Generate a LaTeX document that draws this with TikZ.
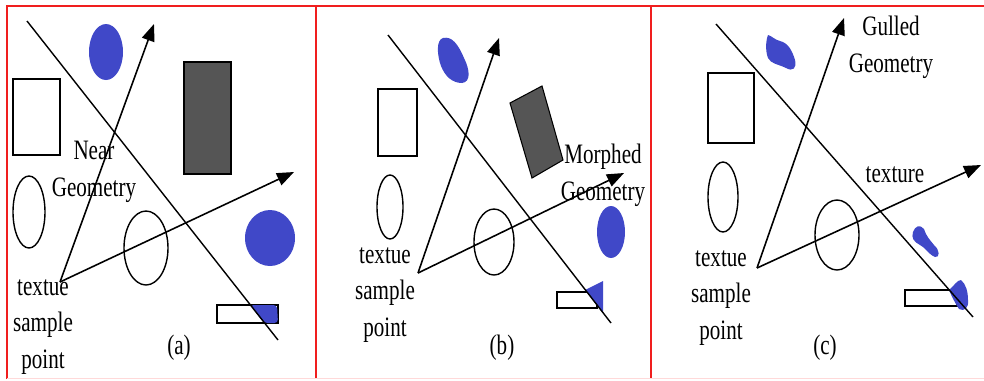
\documentclass[tikz,border=0pt]{standalone}
\usepackage{fontspec}
\newfontfamily\figfont[FakeStretch=0.75]{Liberation Serif}
\definecolor{figred}{RGB}{240,30,30}
\definecolor{figblue}{RGB}{64,72,200}
\definecolor{figgray}{RGB}{85,85,85}
\usetikzlibrary{arrows.meta}

\begin{document}
\begin{tikzpicture}[x=0.02cm,y=-0.02cm,
  panelframe/.style={draw=figred,line width=1.2pt},
  outline/.style={draw=black,line width=0.8pt},
  darkbox/.style={draw=black,fill=figgray,line width=0.6pt},
  blueblob/.style={fill=figblue,draw=none},
  cutline/.style={draw=black,line width=0.8pt},
  probe/.style={draw=black,line width=0.9pt,-{Triangle[length=0.34cm,width=0.26cm]}},
  lbl/.style={font=\figfont\fontsize{16}{21}\selectfont,align=center,inner sep=0pt}
]
  \useasboundingbox (0,0) rectangle (984,380);
  % frames
  \draw[panelframe] (7,379) -- (7,6) -- (984,6);
  \draw[panelframe] (316,6) -- (316,379);
  \draw[panelframe] (651,6) -- (651,379);
  \draw[red!15,line width=0.8pt] (7,378.5) -- (984,378.5);

  % (a)
  \fill[blueblob] (106,52) ellipse [x radius=17,y radius=28];
  \fill[blueblob] (270,238) ellipse [x radius=25,y radius=28];
  \draw[outline] (13,79) rectangle (60,155);
  \draw[darkbox] (184,62) rectangle (231,174);
  \draw[outline] (29,212) ellipse [x radius=16,y radius=36];
  \draw[outline] (146,248) ellipse [x radius=22,y radius=37];
  \draw[outline] (217,305) rectangle (278,323);
  \fill[blueblob,rounded corners=2pt] (250,305) -- (277,305) -- (278,323) -- (264,323) -- cycle;
  \coordinate (acutA) at (27,21);
  \coordinate (acutB) at (278,340);
  \draw[cutline] (acutA) -- (acutB);
  \coordinate (asample) at (60,282);
  \coordinate (atipA) at (154,24);
  \coordinate (atipB) at (294,172);
  \draw[probe] (asample) -- (atipA);
  \draw[probe] (asample) -- (atipB);
  \node[lbl] (anear) at (94,172) {Near\\Geometry};
  \node[lbl] (apoint) at (43,327) {textue\\sample\\point};
  \node[lbl] (acap) at (179,348) {(a)};

  % (b)
  \fill[blueblob] (443,38) .. controls (452,36) and (458,44) .. (464,58)
    .. controls (470,70) and (471,82) .. (462,83)
    .. controls (452,83) and (445,76) .. (441,66)
    .. controls (437,55) and (436,40) .. cycle;
  \fill[blueblob] (611,232) ellipse [x radius=14,y radius=26];
  \draw[outline] (378,89) rectangle (417,156);
  \draw[darkbox] (510,103) -- (542,86) -- (563,160) -- (532,178) -- cycle;
  \draw[outline] (390,207) ellipse [x radius=13,y radius=32];
  \draw[outline] (494,242) ellipse [x radius=20,y radius=33];
  \draw[outline] (557,292) rectangle (597,308);
  \fill[blueblob] (585,290) -- (603,281) -- (603,313) -- cycle;
  \coordinate (bcutA) at (388,35);
  \coordinate (bcutB) at (611,323);
  \draw[cutline] (bcutA) -- (bcutB);
  \coordinate (bsample) at (418,273);
  \coordinate (btipA) at (499,38);
  \coordinate (btipB) at (624,173);
  \draw[probe] (bsample) -- (btipA);
  \draw[probe] (bsample) -- (btipB);
  \node[lbl] (bmorph) at (603,175) {Morphed\\Geometry};
  \node[lbl] (bpoint) at (385,295) {textue\\sample\\point};
  \node[lbl] (bcap) at (502,348) {(b)};

  % (c)
  \fill[blueblob] (768,35) .. controls (772,36) and (775,40) .. (780,41)
    .. controls (788,43) and (792,50) .. (795,60)
    .. controls (797,68) and (793,72) .. (786,68)
    .. controls (778,64) and (771,64) .. (768,58)
    .. controls (765,50) and (766,40) .. cycle;
  \fill[blueblob] (913,232) .. controls (915,226) and (920,224) .. (924,229)
    .. controls (926,236) and (930,240) .. (934,245)
    .. controls (940,250) and (940,258) .. (935,257)
    .. controls (928,254) and (926,248) .. (920,245)
    .. controls (914,242) and (911,238) .. cycle;
  \draw[outline] (708,73) rectangle (754,143);
  \draw[outline] (723,197) ellipse [x radius=15,y radius=35];
  \draw[outline] (837,235) ellipse [x radius=22,y radius=35];
  \draw[outline] (905,290) rectangle (957,306);
  \fill[blueblob] (949,290) .. controls (954,286) and (957,280) .. (961,280)
    .. controls (966,284) and (968,292) .. (968,300)
    .. controls (969,308) and (964,312) .. (959,309)
    .. controls (955,303) and (952,297) .. cycle;
  \coordinate (ccutA) at (716,24);
  \coordinate (ccutB) at (973,317);
  \draw[cutline] (ccutA) -- (ccutB);
  \coordinate (csample) at (757,268);
  \coordinate (ctipA) at (844,18);
  \coordinate (ctipB) at (981,165);
  \draw[probe] (csample) -- (ctipA);
  \draw[probe] (csample) -- (ctipB);
  \node[lbl] (cgull) at (891,47) {Gulled\\Geometry};
  \node[lbl] (ctex) at (895,175) {texture};
  \node[lbl] (cpoint) at (721,298) {textue\\sample\\point};
  \node[lbl] (ccap) at (825,348) {(c)};
\end{tikzpicture}
\end{document}
